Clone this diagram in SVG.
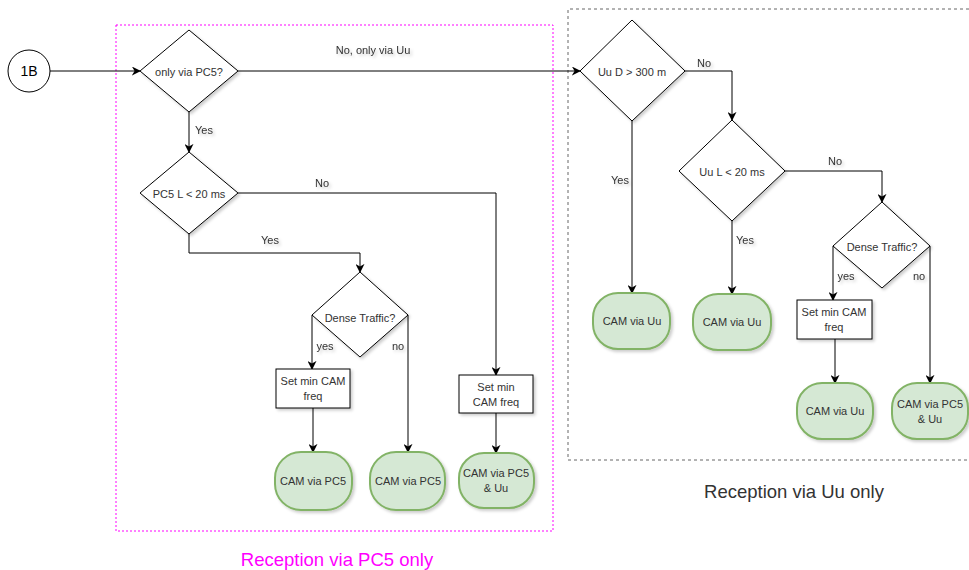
<svg xmlns="http://www.w3.org/2000/svg" width="969" height="570" viewBox="0 0 969 570">
  <defs>
    <marker id="arrow" viewBox="0 0 10 10" refX="9" refY="5" markerWidth="9" markerHeight="9" markerUnits="userSpaceOnUse" orient="auto">
      <path d="M0,0 L10,5 L0,10 L3,5 Z" fill="#000"/>
    </marker>
    <filter id="shadow" x="-20%" y="-20%" width="150%" height="150%">
      <feDropShadow dx="2" dy="2" stdDeviation="1.5" flood-color="#000" flood-opacity="0.2"/>
    </filter>
  </defs>
  <style>
    text { font-family: "Liberation Sans", Arial, sans-serif; font-size: 11px; fill: #333; text-anchor: middle; dominant-baseline: central; }
    .lbl { filter: url(#shadow); }
    .dec { fill: #fff; stroke: #000; stroke-width: 1; filter: url(#shadow); }
    .proc { fill: #fff; stroke: #000; stroke-width: 1; filter: url(#shadow); }
    .term { fill: #d5e8d4; stroke: #82b366; stroke-width: 2; filter: url(#shadow); }
    .edge { fill: none; stroke: #000; stroke-width: 1; marker-end: url(#arrow); }
    .title { font-size: 18.5px; }
  </style>
  <rect width="969" height="570" fill="#fff"/>

  <!-- swimlane frames -->
  <g id="frame-pc5">
    <rect x="116" y="25" width="437" height="506" fill="none" stroke="#ff00ff" stroke-width="1" stroke-dasharray="2 2"/>
    <text class="title" x="337" y="559" style="fill:#ff00ff">Reception via PC5 only</text>
  </g>
  <g id="frame-uu">
    <path d="M969,9 H568 V460 H969" fill="none" stroke="#666" stroke-width="1" stroke-dasharray="3 3"/>
    <text class="title" x="794" y="491" style="fill:#333">Reception via Uu only</text>
  </g>

  <!-- connectors -->
  <g id="connectors">
    <path class="edge" d="M50,71 H140"/>
    <path class="edge" d="M238,71 H580"/>
    <text class="lbl" x="373" y="50">No, only via Uu</text>
    <path class="edge" d="M189,112 V152"/>
    <text class="lbl" x="204" y="130">Yes</text>
    <path class="edge" d="M238,193 H496 V375"/>
    <text class="lbl" x="322" y="183">No</text>
    <path class="edge" d="M189,234 V253 H360 V272"/>
    <text class="lbl" x="270" y="240">Yes</text>
    <path class="edge" d="M312,315 V369"/>
    <text class="lbl" x="325" y="346">yes</text>
    <path class="edge" d="M408,315 V452"/>
    <text class="lbl" x="398" y="346">no</text>
    <path class="edge" d="M313,408 V452"/>
    <path class="edge" d="M496,413 V453"/>

    <path class="edge" d="M685,71 H732 V120"/>
    <text class="lbl" x="704" y="63">No</text>
    <path class="edge" d="M632,121 V293"/>
    <text class="lbl" x="620" y="180">Yes</text>
    <path class="edge" d="M785,171 H882 V202"/>
    <text class="lbl" x="835" y="161">No</text>
    <path class="edge" d="M732,221 V294"/>
    <text class="lbl" x="745" y="240">Yes</text>
    <path class="edge" d="M833,246 V300"/>
    <text class="lbl" x="846" y="276">yes</text>
    <path class="edge" d="M930,246 V383"/>
    <text class="lbl" x="919" y="276">no</text>
    <path class="edge" d="M835,339 V383"/>
  </g>

  <!-- nodes -->
  <g id="start">
    <circle cx="29" cy="71" r="21" fill="#fff" stroke="#000" stroke-width="1"/>
    <text x="29" y="71" style="font-size:14px;fill:#000">1B</text>
  </g>
  <g id="only-pc5">
    <polygon class="dec" points="189,30 238,71 189,112 140,71"/>
    <text x="189" y="72">only via PC5?</text>
  </g>
  <g id="pc5-latency">
    <polygon class="dec" points="189,152 238,193 189,234 140,193"/>
    <text x="189" y="194">PC5 L &lt; 20 ms</text>
  </g>
  <g id="pc5-dense">
    <polygon class="dec" points="360,272 408,315 360,357 312,315"/>
    <text x="360" y="318">Dense Traffic?</text>
  </g>
  <g id="pc5-minfreq">
    <rect class="proc" x="276" y="369" width="74" height="39"/>
    <text x="313" y="381">Set min CAM</text>
    <text x="313" y="396">freq</text>
  </g>
  <g id="pc5-cam-a">
    <rect class="term" x="275" y="452" width="77" height="58" rx="26"/>
    <text x="313" y="481">CAM via PC5</text>
  </g>
  <g id="pc5-cam-b">
    <rect class="term" x="370" y="452" width="75" height="58" rx="26"/>
    <text x="408" y="481">CAM via PC5</text>
  </g>
  <g id="pc5-minfreq-b">
    <rect class="proc" x="459" y="375" width="74" height="38"/>
    <text x="496" y="387">Set min</text>
    <text x="496" y="402">CAM freq</text>
  </g>
  <g id="pc5-cam-c">
    <rect class="term" x="459" y="453" width="75" height="55" rx="25"/>
    <text x="496" y="473">CAM via PC5</text>
    <text x="496" y="488">&amp; Uu</text>
  </g>

  <g id="uu-distance">
    <polygon class="dec" points="632,20 685,71 632,121 580,71"/>
    <text x="632" y="72">Uu D &gt; 300 m</text>
  </g>
  <g id="uu-latency">
    <polygon class="dec" points="732,120 785,171 732,221 679,171"/>
    <text x="732" y="172">Uu L &lt; 20 ms</text>
  </g>
  <g id="uu-dense">
    <polygon class="dec" points="882,202 930,246 882,288 833,246"/>
    <text x="882" y="247">Dense Traffic?</text>
  </g>
  <g id="uu-cam-a">
    <rect class="term" x="593" y="293" width="77" height="56" rx="25"/>
    <text x="632" y="321">CAM via Uu</text>
  </g>
  <g id="uu-cam-b">
    <rect class="term" x="693" y="294" width="78" height="56" rx="25"/>
    <text x="732" y="322">CAM via Uu</text>
  </g>
  <g id="uu-minfreq">
    <rect class="proc" x="797" y="300" width="75" height="39"/>
    <text x="834" y="312">Set min CAM</text>
    <text x="834" y="327">freq</text>
  </g>
  <g id="uu-cam-c">
    <rect class="term" x="797" y="383" width="76" height="56" rx="25"/>
    <text x="835" y="411">CAM via Uu</text>
  </g>
  <g id="uu-cam-d">
    <rect class="term" x="892" y="383" width="76" height="56" rx="25"/>
    <text x="930" y="404">CAM via PC5</text>
    <text x="930" y="419">&amp; Uu</text>
  </g>
</svg>
